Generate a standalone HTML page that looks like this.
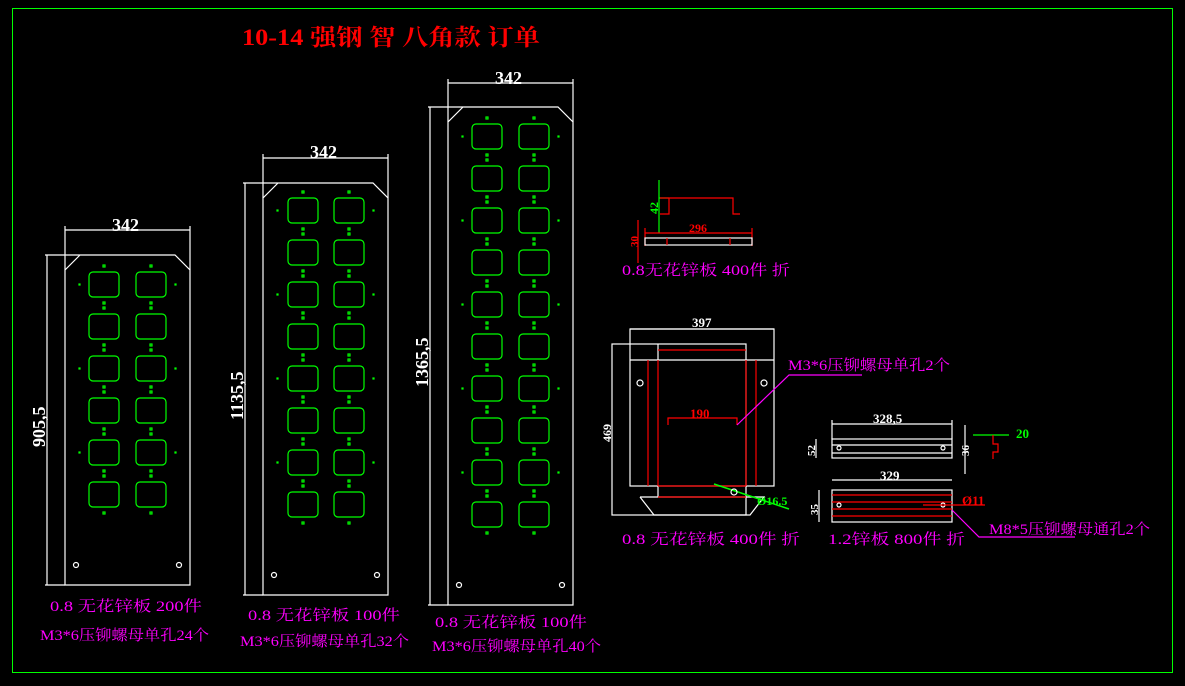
<!DOCTYPE html>
<html><head><meta charset="utf-8"><style>
html,body{margin:0;padding:0;background:#000;width:1185px;height:686px;overflow:hidden}
svg{display:block}
text{font-family:"Liberation Serif","Noto Serif CJK SC",serif}
.m{fill:#ff00ff;font-size:15px}
.w{fill:#fff}
</style></head><body>
<svg id="s" width="1185" height="686" viewBox="0 0 1185 686" xmlns="http://www.w3.org/2000/svg">
<rect x="12.5" y="8.5" width="1160" height="664" fill="none" stroke="#00ff00" stroke-width="1"/>
<text x="242" y="45" fill="#ff0000" font-size="23" font-weight="bold" textLength="298" lengthAdjust="spacingAndGlyphs">10-14 强钢 智 八角款 订单</text>
<g id="panels" fill="none" stroke="#fff" stroke-width="1.2"></g>
<text class="w" x="112" y="231" font-size="18" font-weight="bold">342</text>
<text class="w" x="310" y="158" font-size="18" font-weight="bold">342</text>
<text class="w" x="495" y="84" font-size="18" font-weight="bold">342</text>
<text class="w" font-size="18" font-weight="bold" transform="translate(45,447) rotate(-90)">905,5</text>
<text class="w" font-size="18" font-weight="bold" transform="translate(243,420) rotate(-90)">1135,5</text>
<text class="w" font-size="18" font-weight="bold" transform="translate(428,387) rotate(-90)">1365,5</text>
<text class="m" x="50" y="611" textLength="152" lengthAdjust="spacingAndGlyphs">0.8 无花锌板 200件</text>
<text class="m" x="40" y="640" textLength="169" lengthAdjust="spacingAndGlyphs">M3*6压铆螺母单孔24个</text>
<text class="m" x="248" y="620" textLength="152" lengthAdjust="spacingAndGlyphs">0.8 无花锌板 100件</text>
<text class="m" x="240" y="646" textLength="169" lengthAdjust="spacingAndGlyphs">M3*6压铆螺母单孔32个</text>
<text class="m" x="435" y="627" textLength="152" lengthAdjust="spacingAndGlyphs">0.8 无花锌板 100件</text>
<text class="m" x="432" y="651" textLength="169" lengthAdjust="spacingAndGlyphs">M3*6压铆螺母单孔40个</text>

<g fill="none" stroke-width="1.2">
<line x1="659" y1="180" x2="659" y2="233" stroke="#00ff00"/>
<line x1="659" y1="198" x2="669" y2="198" stroke="#00ff00"/>
<polyline points="660,198 733,198 733,214 740,214" stroke="#ff0000"/>
<polyline points="669,198 669,214 660,214" stroke="#ff0000"/>
<line x1="645" y1="233" x2="752" y2="233" stroke="#ff0000"/>
<line x1="645" y1="228" x2="645" y2="246" stroke="#ff0000"/>
<line x1="752" y1="228" x2="752" y2="246" stroke="#ff0000"/>
<rect x="645" y="238" width="107" height="7" stroke="#fff"/>
<line x1="667" y1="238" x2="667" y2="245" stroke="#ff0000"/>
<line x1="730" y1="238" x2="730" y2="245" stroke="#ff0000"/>
<line x1="638" y1="220" x2="638" y2="263" stroke="#ff0000"/>
</g>
<text x="689" y="232" fill="#ff0000" font-size="12" font-weight="bold">296</text>
<text fill="#00ff00" font-size="12" font-weight="bold" transform="translate(658,214) rotate(-90)">42</text>
<text fill="#ff0000" font-size="11" font-weight="bold" transform="translate(638,247) rotate(-90)">30</text>
<text class="m" x="622" y="275" textLength="168" lengthAdjust="spacingAndGlyphs">0.8无花锌板 400件 折</text>

<g fill="none" stroke-width="1.2">
<line x1="630" y1="329" x2="774" y2="329" stroke="#fff"/>
<rect x="612" y="344" width="134" height="171" stroke="#fff"/>
<rect x="630" y="329" width="144" height="157" stroke="#fff"/>
<line x1="630" y1="360" x2="774" y2="360" stroke="#fff"/>
<line x1="658" y1="344" x2="658" y2="360" stroke="#fff"/>
<polyline points="640,497 764,497 750,515 654,515 640,497" stroke="#fff"/>
<line x1="658" y1="486" x2="658" y2="497" stroke="#fff"/>
<line x1="658" y1="350" x2="746" y2="350" stroke="#ff0000"/>
<line x1="658" y1="486" x2="746" y2="486" stroke="#ff0000"/>
<line x1="658" y1="497" x2="746" y2="497" stroke="#ff0000"/>
<line x1="648" y1="360" x2="648" y2="486" stroke="#ff0000"/>
<line x1="658" y1="360" x2="658" y2="486" stroke="#ff0000"/>
<line x1="746" y1="360" x2="746" y2="486" stroke="#ff0000"/>
<line x1="756" y1="360" x2="756" y2="486" stroke="#ff0000"/>
<circle cx="640" cy="383" r="3" stroke="#fff"/>
<circle cx="764" cy="383" r="3" stroke="#fff"/>
<polyline points="668,425 668,418 737,418 737,425" stroke="#ff0000"/>
<polyline points="737,425 789,375 862,375" stroke="#ff00ff"/>
<line x1="714" y1="484" x2="789" y2="509" stroke="#00ff00" stroke-width="1.5"/>
<circle cx="734" cy="492" r="3" stroke="#fff"/>
</g>
<text x="692" y="327" class="w" font-size="13" font-weight="bold">397</text>
<text x="690" y="418" fill="#ff0000" font-size="13" font-weight="bold">190</text>
<text fill="#fff" font-size="12" font-weight="bold" transform="translate(611,442) rotate(-90)">469</text>
<text x="757" y="505" fill="#00ff00" font-size="12" font-weight="bold">Ø16.5</text>
<text class="m" x="788" y="370" textLength="162" lengthAdjust="spacingAndGlyphs">M3*6压铆螺母单孔2个</text>
<text class="m" x="622" y="544" textLength="178" lengthAdjust="spacingAndGlyphs">0.8 无花锌板 400件 折</text>

<g fill="none" stroke-width="1.2">
<line x1="832" y1="424" x2="952" y2="424" stroke="#fff"/>
<line x1="832" y1="420" x2="832" y2="439" stroke="#fff"/>
<line x1="952" y1="420" x2="952" y2="439" stroke="#fff"/>
<rect x="832" y="439" width="120" height="19" stroke="#fff"/>
<line x1="832" y1="445" x2="952" y2="445" stroke="#fff"/>
<line x1="832" y1="453" x2="952" y2="453" stroke="#fff"/>
<circle cx="839" cy="448" r="2" stroke="#fff"/>
<circle cx="943" cy="448" r="2" stroke="#fff"/>
<line x1="816" y1="439" x2="816" y2="458" stroke="#fff"/>
<line x1="965" y1="425" x2="965" y2="474" stroke="#fff"/>
<line x1="973" y1="435" x2="1009" y2="435" stroke="#00ff00"/>
<polyline points="993,435 993,444 998,444 998,452 993,452 993,459" stroke="#ff0000"/>
<line x1="832" y1="480" x2="952" y2="480" stroke="#fff"/>
<rect x="832" y="490" width="120" height="32" stroke="#fff"/>
<line x1="832" y1="495" x2="952" y2="495" stroke="#ff0000"/>
<line x1="832" y1="502" x2="952" y2="502" stroke="#ff0000"/>
<line x1="832" y1="509" x2="952" y2="509" stroke="#ff0000"/>
<line x1="832" y1="516" x2="952" y2="516" stroke="#ff0000"/>
<circle cx="839" cy="505" r="2" stroke="#fff"/>
<circle cx="943" cy="505" r="2" stroke="#fff"/>
<line x1="819" y1="490" x2="819" y2="522" stroke="#fff"/>
<line x1="923" y1="505" x2="985" y2="505" stroke="#ff0000"/>
<polyline points="952,510 979,537 1075,537" stroke="#ff00ff"/>
</g>
<text x="873" y="423" class="w" font-size="13" font-weight="bold">328,5</text>
<text x="880" y="480" class="w" font-size="13" font-weight="bold">329</text>
<text fill="#fff" font-size="11" font-weight="bold" transform="translate(815,456) rotate(-90)">52</text>
<text fill="#fff" font-size="11" font-weight="bold" transform="translate(969,456) rotate(-90)">36</text>
<text fill="#fff" font-size="11" font-weight="bold" transform="translate(818,515) rotate(-90)">35</text>
<text x="1016" y="438" fill="#00ff00" font-size="13" font-weight="bold">20</text>
<text x="962" y="505" fill="#ff0000" font-size="13" font-weight="bold">Ø11</text>
<text class="m" x="989" y="534" textLength="161" lengthAdjust="spacingAndGlyphs">M8*5压铆螺母通孔2个</text>
<text class="m" x="828" y="544" textLength="137" lengthAdjust="spacingAndGlyphs">1.2锌板 800件 折</text>
</svg>
<script>
var g=document.getElementById('panels'),NS='http://www.w3.org/2000/svg';
function el(t,a,p){var e=document.createElementNS(NS,t);for(var k in a)e.setAttribute(k,a[k]);(p||g).appendChild(e);return e;}
function panel(x,top,bot,dimY,dimX,c1,c2,y0,rows){
 var w=125,r=x+w;
 el('polyline',{points:(x+15)+','+top+' '+(r-15)+','+top+' '+r+','+(top+15)+' '+r+','+bot+' '+x+','+bot+' '+x+','+(top+15)+' '+(x+15)+','+top});
 el('line',{x1:x,y1:dimY-4,x2:x,y2:top+15});el('line',{x1:r,y1:dimY-4,x2:r,y2:top+15});
 el('line',{x1:x,y1:dimY,x2:r,y2:dimY});
 el('line',{x1:dimX-2,y1:top,x2:x+15,y2:top});el('line',{x1:dimX-2,y1:bot,x2:x,y2:bot});
 el('line',{x1:dimX,y1:top,x2:dimX,y2:bot});
 el('circle',{cx:x+11,cy:bot-20,r:2.5});el('circle',{cx:r-11,cy:bot-20,r:2.5});
 for(var i=0;i<rows;i++){var y=y0+i*42;
  [c1,c2].forEach(function(cx){
   el('rect',{x:cx,y:y,width:30,height:25,rx:4,stroke:'#00ff00'});
   el('rect',{x:cx+14,y:y-7,width:2,height:2,stroke:'#00ff00'});
   el('rect',{x:cx+14,y:y+30,width:2,height:2,stroke:'#00ff00'});
  });
  if(i%2==0){el('rect',{x:x+14,y:y+12,width:1,height:1,stroke:'#00ff00'});el('rect',{x:r-15,y:y+12,width:1,height:1,stroke:'#00ff00'});}
 }
}
panel(65,255,585,230,47,89,136,272,6);
panel(263,183,595,158,245,288,334,198,8);
panel(448,107,605,83,430,472,519,124,10);
</script>
</body></html>
